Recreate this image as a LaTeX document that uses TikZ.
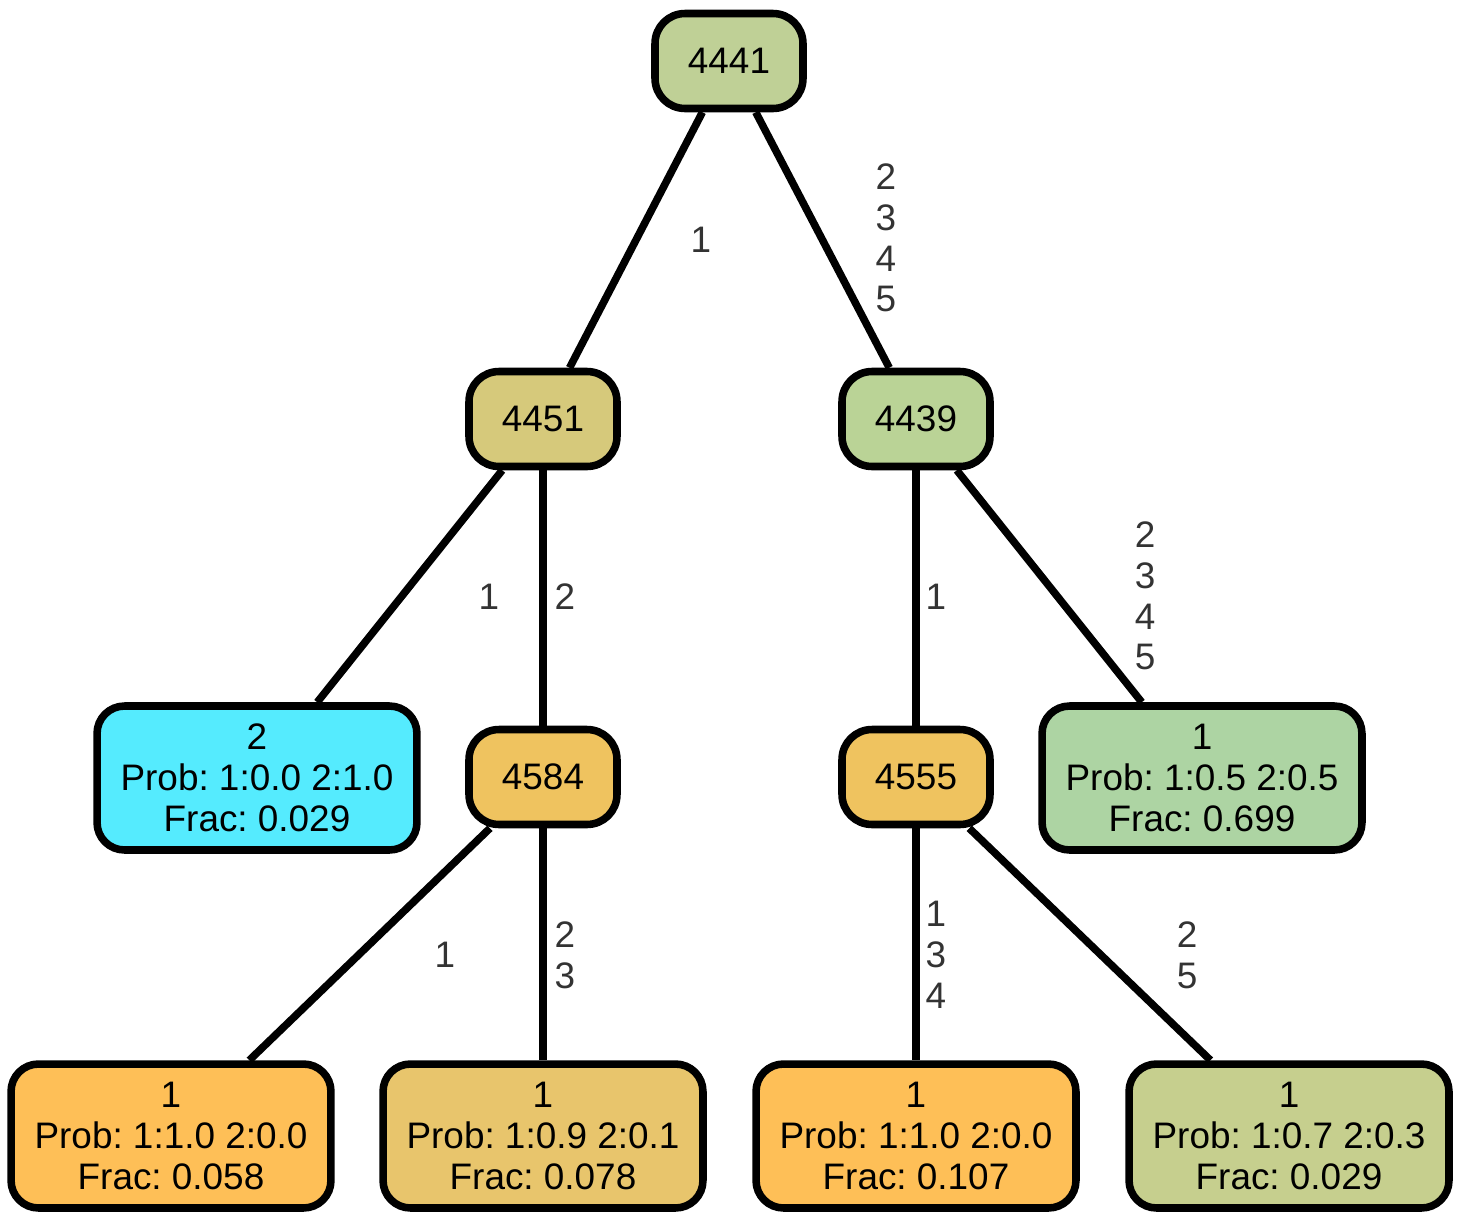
\documentclass[tikz,border=0pt]{standalone}
\usepackage{fontspec}
\setmainfont{Liberation Sans}
\usepackage{tikz}
\frenchspacing

\definecolor{cTop}{HTML}{BFD096}
\definecolor{cLeft}{HTML}{D6C97B}
\definecolor{cRight}{HTML}{BAD396}
\definecolor{cCyan}{HTML}{55EBFE}
\definecolor{cMid}{HTML}{EFC35F}
\definecolor{cGreen}{HTML}{ADD4A3}
\definecolor{cOrange}{HTML}{FEBF57}
\definecolor{cSand}{HTML}{E8C56C}
\definecolor{cOlive}{HTML}{C6CF8E}
\definecolor{cLabel}{HTML}{333333}

\tikzset{
  inner/.style={draw, line width=4.3pt, rounded corners=0.6cm,
    minimum width=2.96cm, minimum height=1.9cm, align=center,
    font=\fontsize{21}{23.2}\selectfont},
  leaf/.style={draw, line width=4.3pt, rounded corners=0.55cm,
    minimum width=6.4cm, minimum height=2.88cm, align=center,
    font=\fontsize{21}{23.2}\selectfont},
  elabel/.style={text=cLabel, align=center, inner sep=0pt,
    font=\fontsize{21}{23.2}\selectfont},
  edge/.style={line width=4.3pt}
}

\begin{document}
\begin{tikzpicture}[x=0.02cm,y=-0.02cm]
  \useasboundingbox (0,0) rectangle (1461,1221);
  % internal nodes
  \node[inner, fill=cTop]   (n4441) at (729,61)  {4441};
  \node[inner, fill=cLeft]  (n4451) at (543,419) {4451};
  \node[inner, fill=cRight] (n4439) at (916,419) {4439};
  \node[inner, fill=cMid]   (n4584) at (543,777) {4584};
  \node[inner, fill=cMid]   (n4555) at (916,777) {4555};
  % leaves
  \node[leaf, fill=cCyan]   (l2)   at (257,778)  {2\\Prob: 1:0.0 2:1.0\\Frac: 0.029};
  \node[leaf, fill=cGreen]  (l699) at (1202,778) {1\\Prob: 1:0.5 2:0.5\\Frac: 0.699};
  \node[leaf, fill=cOrange] (l058) at (171,1136) {1\\Prob: 1:1.0 2:0.0\\Frac: 0.058};
  \node[leaf, fill=cSand]   (l078) at (543,1136) {1\\Prob: 1:0.9 2:0.1\\Frac: 0.078};
  \node[leaf, fill=cOrange] (l107) at (916,1136) {1\\Prob: 1:1.0 2:0.0\\Frac: 0.107};
  \node[leaf, fill=cOlive]  (l029) at (1289,1136) {1\\Prob: 1:0.7 2:0.3\\Frac: 0.029};
  % edges
  \draw[edge] (n4441) -- (n4451);
  \draw[edge] (n4441) -- (n4439);
  \draw[edge] (n4451) -- (l2);
  \draw[edge] (n4451) -- (n4584);
  \draw[edge] (n4439) -- (n4555);
  \draw[edge] (n4439) -- (l699);
  \draw[edge] (n4584) -- (l058);
  \draw[edge] (n4584) -- (l078);
  \draw[edge] (n4555) -- (l107);
  \draw[edge] (n4555) -- (l029);
  % edge labels
  \node[elabel] (t1)  at (701,240)  {1};
  \node[elabel] (t2)  at (886,238)  {2\\3\\4\\5};
  \node[elabel] (t3)  at (489,597)  {1};
  \node[elabel] (t4)  at (565,597)  {2};
  \node[elabel] (t5)  at (936,597)  {1};
  \node[elabel] (t6)  at (1145,596) {2\\3\\4\\5};
  \node[elabel] (t7)  at (445,955)  {1};
  \node[elabel] (t8)  at (565,955)  {2\\3};
  \node[elabel] (t9)  at (936,955)  {1\\3\\4};
  \node[elabel] (t10) at (1187,955) {2\\5};
\end{tikzpicture}
\end{document}
